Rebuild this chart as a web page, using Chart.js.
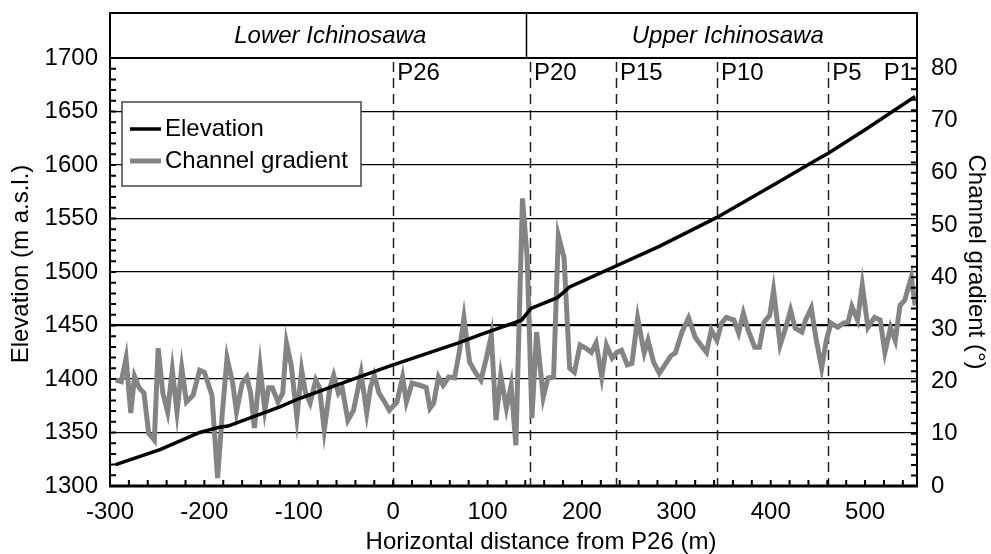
<!DOCTYPE html>
<html>
<head>
<meta charset="utf-8">
<script src="https://cdn.jsdelivr.net/npm/chart.js@4.4.0/dist/chart.umd.min.js"></script>
<style>
html, body { margin: 0; padding: 0; background: #fff; }
canvas { display: block; }
</style>
</head>
<body>
<canvas id="myChart" width="991" height="554"></canvas>
<script>
// horizontal distance from P26 (m) and channel gradient (deg)
const distance = [-294,-288,-283,-278,-274,-269,-264,-259,-253,-249,
    -244,-239,-234,-229,-224,-219,-212,-205,-200,-192,
    -186,-181,-176,-170,-166,-160,-155,-151,-147,-141,
    -136,-132,-128,-122,-117,-113,-108,-102,-97,-93,
    -88,-82,-78,-73,-67,-63,-58,-54,-48,-42,
    -34,-28,-24,-20,-15,-9,-4,4,10,14,
    20,28,35,39,43,48,53,59,65,70,
    75,81,87,93,99,104,109,114,120,125,
    130,137,142,147,152,159,164,170,175,181,
    187,192,198,204,210,215,221,226,232,237,
    242,248,253,259,266,270,276,282,289,294,
    299,306,313,320,326,332,337,343,348,353,
    361,366,371,376,383,388,393,399,403,410,
    416,421,426,433,437,443,448,454,459,464,
    471,477,482,486,492,497,503,510,516,521,
    527,532,537,542,549,553];
const gradient = [20.3,20.0,24.5,14.0,21.0,18.8,17.8,10.1,8.8,26.4,
    17.8,14.2,22.2,14.2,22.6,16.1,17.4,22.2,21.8,17.4,
    1.5,14.0,24.5,19.7,14.2,19.7,20.9,17.8,11.1,22.8,
    14.5,18.8,18.8,16.1,17.8,27.4,23.2,13.2,22.2,18.0,
    15.9,20.3,18.8,10.7,18.8,21.2,17.8,18.8,12.6,14.5,
    21.6,14.0,18.9,21.2,17.8,16.1,14.5,16.1,20.9,16.1,
    19.7,19.3,18.9,14.9,15.9,20.9,19.3,20.9,20.7,25.6,
    32.2,23.7,21.8,20.3,24.7,28.9,12.6,21.2,14.9,19.3,
    7.8,55.1,43.8,13.0,29.5,17.0,20.7,20.9,48.0,43.8,
    22.6,21.8,27.0,26.4,25.6,27.4,20.9,27.0,24.5,25.6,
    26.0,23.2,23.5,32.2,25.5,27.9,23.7,21.6,23.5,24.9,
    25.5,29.5,32.2,28.5,27.0,25.6,29.9,27.9,31.2,32.3,
    31.8,29.3,33.1,29.9,26.6,26.6,31.4,32.7,37.5,27.0,
    30.4,33.7,30.2,29.5,31.8,34.1,28.3,22.6,28.0,31.2,
    30.4,31.2,31.4,34.4,31.8,38.5,30.4,32.3,31.8,25.6,
    30.4,27.9,34.6,35.6,40.0,34.6];

// elevation profile (m a.s.l.)
const elevDistance = [-294,-247,-205,-184,-175,-120,-99,-4,70,91,136,146,174,187,282,343,412,451,461,500,553];
const elevation = [1320,1334,1350,1355,1356,1374,1382,1412,1434,1441,1455,1466,1476,1486,1524,1551,1586,1606,1611,1633,1664];

const distanceTicks = [-300,-200,-100,0,100,200,300,400,500];
const elevationTicks = [1300,1350,1400,1450,1500,1550,1600,1650,1700];
const gradientTicks = [0,10,20,30,40,50,60,70,80];

const pointNames = ['P26','P20','P15','P10','P5','P1'];
const pointDistance = [0,145,236,343,461,555];
const reachNames = ['Lower Ichinosawa','Upper Ichinosawa'];
const reachBoundary = 141;

const FONT = '"Liberation Sans", Arial, sans-serif';

function rotatedText(ctx, text, x, y, angle) {
    ctx.save();
    ctx.translate(x, y);
    ctx.rotate(angle);
    ctx.fillText(text, 0, 0);
    ctx.restore();
}

const decorations = {
    id: 'decorations',
    beforeDatasetsDraw(chart) {
        const ctx = chart.ctx;
        const a = chart.chartArea;
        const x = chart.scales.x;
        ctx.save();
        ctx.strokeStyle = '#222';
        ctx.lineWidth = 1.5;
        ctx.setLineDash([10, 6]);
        pointDistance.forEach(d => {
            const px = Math.round(x.getPixelForValue(d)) + 0.5;
            if (px >= a.right - 2) return;
            ctx.beginPath();
            ctx.moveTo(px, a.top + 4);
            ctx.lineTo(px, a.bottom);
            ctx.stroke();
        });
        ctx.restore();
    },
    afterDraw(chart) {
        const ctx = chart.ctx;
        const a = chart.chartArea;
        const x = chart.scales.x, y = chart.scales.y, y1 = chart.scales.y1;
        ctx.save();

        // minor ticks, pointing inward
        ctx.strokeStyle = '#000';
        ctx.lineWidth = 2;
        ctx.beginPath();
        for (let v = 1310; v < 1700; v += 10) {
            const py = y.getPixelForValue(v);
            ctx.moveTo(a.left, py); ctx.lineTo(a.left + 6, py);
        }
        for (let v = -280; v < 555; v += 20) {
            const px = x.getPixelForValue(v);
            ctx.moveTo(px, a.bottom); ctx.lineTo(px, a.bottom - 6);
        }
        for (let v = 2; v < 82; v += 2) {
            const py = y1.getPixelForValue(v);
            ctx.moveTo(a.right - 6, py); ctx.lineTo(a.right, py);
        }
        ctx.stroke();

        // plot frame
        ctx.lineWidth = 2;
        ctx.strokeRect(a.left, a.top, a.right - a.left, a.bottom - a.top);
        ctx.lineWidth = 3;
        ctx.beginPath();
        ctx.moveTo(a.left - 1, a.bottom); ctx.lineTo(a.right + 1, a.bottom);
        ctx.stroke();

        // reach header
        const hTop = 13;
        const bx = Math.round(x.getPixelForValue(reachBoundary)) + 0.5;
        ctx.lineWidth = 2;
        ctx.strokeRect(a.left, hTop, a.right - a.left, a.top - hTop);
        ctx.lineWidth = 1.5;
        ctx.beginPath();
        ctx.moveTo(bx, hTop); ctx.lineTo(bx, a.top);
        ctx.stroke();
        ctx.fillStyle = '#000';
        ctx.font = 'italic 24px ' + FONT;
        ctx.textAlign = 'center';
        ctx.textBaseline = 'middle';
        ctx.fillText(reachNames[0], (a.left + bx) / 2 + 12, (hTop + a.top) / 2 + 1);
        ctx.fillText(reachNames[1], (bx + a.right) / 2 + 6, (hTop + a.top) / 2 + 1);

        // point labels
        ctx.font = '24px ' + FONT;
        pointNames.forEach((name, i) => {
            const px = x.getPixelForValue(pointDistance[i]);
            if (px >= a.right - 2) {
                ctx.textAlign = 'right';
                ctx.fillText(name, px - 4, a.top + 15);
            } else {
                ctx.textAlign = 'left';
                ctx.fillText(name, px + 4, a.top + 15);
            }
        });

        // legend
        const lx = 122, ly = 102, lw = 239, lh = 84;
        ctx.fillStyle = '#fff';
        ctx.fillRect(lx, ly, lw, lh);
        ctx.strokeStyle = '#444';
        ctx.lineWidth = 1.5;
        ctx.strokeRect(lx, ly, lw, lh);
        chart.data.datasets.forEach((ds, i) => {
            const ry = ly + 27 + i * 32;
            ctx.strokeStyle = ds.borderColor;
            ctx.lineWidth = ds.borderWidth;
            ctx.beginPath();
            ctx.moveTo(lx + 8, ry); ctx.lineTo(lx + 39, ry);
            ctx.stroke();
            ctx.fillStyle = '#000';
            ctx.textAlign = 'left';
            ctx.fillText(ds.label, lx + 43, ry);
        });

        // axis titles
        ctx.fillStyle = '#000';
        ctx.textAlign = 'center';
        ctx.fillText('Horizontal distance from P26 (m)', 541, 542);
        rotatedText(ctx, 'Elevation (m a.s.l.)', 21, 264, -Math.PI / 2);
        rotatedText(ctx, 'Channel gradient (\u00B0)', 976, 262, Math.PI / 2);

        ctx.restore();
    }
};

const ctx = document.getElementById('myChart').getContext('2d');
const chart = new Chart(ctx, {
    type: 'line',
    data: {
        datasets: [{
            label: 'Elevation',
            data: elevDistance.map((d, i) => ({ x: d, y: elevation[i] })),
            borderColor: '#000000',
            borderWidth: 3.5,
            pointRadius: 0,
            tension: 0,
            yAxisID: 'y'
        }, {
            label: 'Channel gradient',
            data: distance.map((d, i) => ({ x: d, y: gradient[i] })),
            borderColor: '#848484',
            borderWidth: 5,
            pointRadius: 0,
            tension: 0,
            yAxisID: 'y1'
        }]
    },
    options: {
        responsive: false,
        animation: false,
        layout: { padding: { top: 58, left: 0, right: 0, bottom: 0 } },
        plugins: {
            legend: { display: false },
            tooltip: { enabled: false }
        },
        scales: {
            x: {
                type: 'linear',
                min: -300,
                max: 555,
                afterBuildTicks: s => { s.ticks = distanceTicks.map(v => ({ value: v })); },
                afterFit: s => { s.height = 68; },
                grid: { display: false, drawTicks: false },
                border: { display: false },
                ticks: { color: '#000', font: { family: FONT, size: 24 }, padding: 12, maxRotation: 0,
                         callback: v => String(v) }
            },
            y: {
                position: 'left',
                min: 1300,
                max: 1700,
                afterBuildTicks: s => { s.ticks = elevationTicks.map(v => ({ value: v })); },
                afterFit: s => { s.width = 110; },
                grid: {
                    drawTicks: false,
                    color: '#000',
                    lineWidth: c => (c.tick && c.tick.value === 1450 ? 2.2 : 1.2)
                },
                border: { display: false },
                ticks: { color: '#000', font: { family: FONT, size: 24 }, padding: 12,
                         callback: v => String(v) }
            },
            y1: {
                position: 'right',
                min: 0,
                max: 82,
                afterBuildTicks: s => { s.ticks = gradientTicks.map(v => ({ value: v })); },
                afterFit: s => { s.width = 74; },
                grid: { display: false, drawTicks: false },
                border: { display: false },
                ticks: { color: '#000', font: { family: FONT, size: 24 }, padding: 14,
                         callback: v => String(v) }
            }
        }
    },
    plugins: [decorations]
});
</script>
</body>
</html>
